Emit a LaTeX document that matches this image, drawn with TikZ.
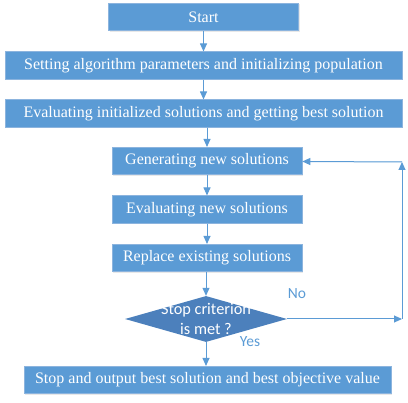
\documentclass[tikz,border=0pt]{standalone}
\usepackage{fontspec}
\setmainfont{Liberation Serif}
\newfontfamily\flowsans{Carlito}
\usetikzlibrary{arrows.meta,shapes.geometric,shadows}
\definecolor{boxblue}{RGB}{91,155,213}
\definecolor{decblue}{RGB}{76,128,188}
\definecolor{edgeblue}{RGB}{140,180,222}
\begin{document}
\begin{tikzpicture}[x=1pt, y=-1pt]
    % Styles
    \tikzstyle{stepbox} = [rectangle, draw=edgeblue, line width=0.6pt, fill=boxblue, text=white, inner sep=0pt, minimum height=27.5pt, align=center, font=\fontsize{16}{19}\selectfont, drop shadow={opacity=0.18, shadow xshift=1.2pt, shadow yshift=-1.2pt}]
    \tikzstyle{decision} = [diamond, fill=decblue, text=white, inner sep=-20pt, minimum width=162pt, minimum height=46pt, align=center, font=\flowsans\fontsize{16.3}{20}\selectfont]
    \tikzstyle{arrow} = [->, >={Triangle[length=8pt, width=7pt]}, draw=boxblue, fill=boxblue, line width=1pt]
    \tikzstyle{branch} = [text=boxblue, font=\flowsans\fontsize{15.5}{17}\selectfont]

    \useasboundingbox (0,0) rectangle (408,403);

    % Nodes
    \node[stepbox, minimum width=190pt] (Start) at (203.5, 17) {Start};
    \node[stepbox, minimum width=397pt] (Init) at (203.5, 65.5) {Setting algorithm parameters and initializing population};
    \node[stepbox, minimum width=397pt] (EvalInit) at (203.5, 113.5) {Evaluating initialized solutions and getting best solution};
    \node[stepbox, minimum width=190pt] (Gen) at (207, 161) {Generating new solutions};
    \node[stepbox, minimum width=190pt] (EvalNew) at (207, 209.5) {Evaluating new solutions};
    \node[stepbox, minimum width=190pt] (Replace) at (207, 258) {Replace existing solutions};
    \node[decision] (Check) at (206, 319) {Stop criterion\\is met ?};
    \node[stepbox, minimum width=367pt] (Stop) at (207.5, 380) {Stop and output best solution and best objective value};
    \coordinate (loopR) at (402, 319);
    \coordinate (loopT) at (402, 162);

    % Arrows
    \draw[arrow] (Start) -- (Start |- Init.north);
    \draw[arrow] (Init) -- (Init |- EvalInit.north);
    \draw[arrow] (Gen |- EvalInit.south) -- (Gen);
    \draw[arrow] (Gen) -- (EvalNew);
    \draw[arrow] (EvalNew) -- (Replace);
    \draw[arrow] (Replace.south -| Check) -- (Check);
    \draw[arrow] (Check) -- (Check |- Stop.north);
    \draw[arrow] (Check) -- (loopR);
    \draw[arrow] (loopR) -- (loopT);
    \draw[arrow] (loopT) -- (Gen);

    % Branch labels
    \node[branch] (no) at (297, 294) {No};
    \node[branch] (yes) at (250, 342) {Yes};
\end{tikzpicture}
\end{document}
